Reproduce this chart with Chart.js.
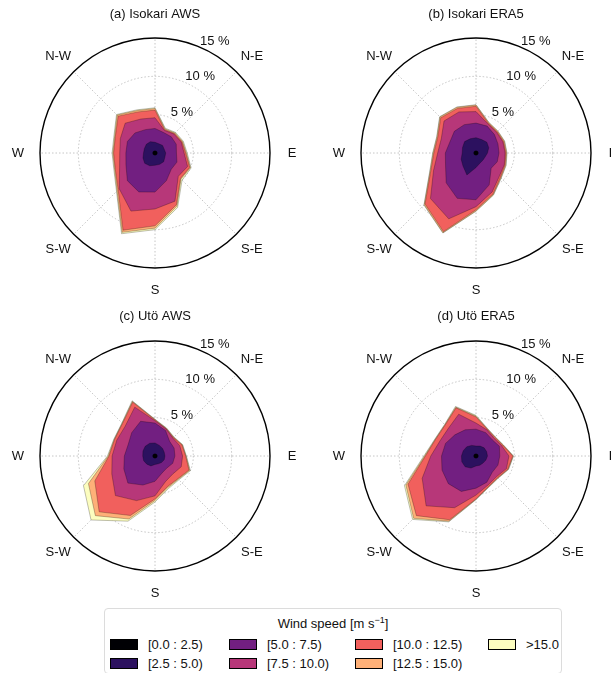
<!DOCTYPE html>
<html>
<head>
<meta charset="utf-8">
<script src="https://cdn.jsdelivr.net/npm/chart.js@4.4.1/dist/chart.umd.min.js"></script>
<style>
html, body { margin: 0; padding: 0; background: #fff; width: 611px; height: 673px; overflow: hidden; }
body { position: relative; font-family: "Liberation Sans", Arial, sans-serif; color: #111; }
canvas { position: absolute; }
#legend { position: absolute; left: 104px; top: 608px; width: 458px; height: 66px; box-sizing: border-box;
  border: 1px solid #dcdcdc; border-radius: 4px; font-size: 13px; }
#legend .ttl { position: absolute; left: 0; right: 0; top: 6px; text-align: center; }
#legend .ttl sup { font-size: 9px; }
#legend .sw { position: absolute; width: 26px; height: 9px; border: 1px solid #000; }
#legend .lb { position: absolute; line-height: 15px; white-space: nowrap; }
</style>
</head>
<body>
<canvas id="roseA" width="305" height="300" style="left:0;top:0"></canvas>
<canvas id="roseB" width="320" height="300" style="left:305px;top:0"></canvas>
<canvas id="roseC" width="305" height="300" style="left:0;top:300px"></canvas>
<canvas id="roseD" width="320" height="300" style="left:305px;top:300px"></canvas>
<div id="legend"></div>
<script>
// 16 compass sectors, clockwise from north
const directions = ['N', 'NNE', 'NE', 'ENE', 'E', 'ESE', 'SE', 'SSE', 'S', 'SSW', 'SW', 'WSW', 'W', 'WNW', 'NW', 'NNW'];
const compassLabels = ['', '', 'N-E', '', 'E', '', 'S-E', '', 'S', '', 'S-W', '', 'W', '', 'N-W', ''];
const rTicks = [5, 10, 15];
const speedBins = ['[0.0 : 2.5)', '[2.5 : 5.0)', '[5.0 : 7.5)', '[7.5 : 10.0)', '[10.0 : 12.5)', '[12.5 : 15.0)', '>15.0'];
const binColors = ['#000004', '#2c115f', '#721f81', '#b73779', '#f1605d', '#feb078', '#fcfdbf'];

// cumulative frequency (%) per speed bin, one row per bin
const isokariAws = [
  [0.3, 0.3, 0.3, 0.3, 0.3, 0.3, 0.3, 0.3, 0.3, 0.3, 0.3, 0.3, 0.3, 0.3, 0.3, 0.3],
  [1.4, 1.3, 1.4, 1.3, 1.4, 1.4, 1.6, 1.6, 1.6, 1.8, 1.9, 1.7, 1.5, 1.5, 1.6, 1.6],
  [3.2, 2.9, 3.0, 3.0, 2.8, 3.1, 3.0, 3.9, 5.1, 5.5, 5.1, 4.1, 3.8, 3.9, 3.7, 3.3],
  [4.6, 3.2, 3.5, 3.7, 3.8, 4.6, 4.3, 6.8, 7.3, 8.2, 6.6, 5.0, 4.6, 4.9, 5.5, 4.8],
  [5.6, 3.3, 3.6, 3.8, 4.0, 4.9, 4.7, 7.3, 9.5, 10.9, 6.8, 5.6, 5.4, 5.6, 6.8, 5.8],
  [5.8, 3.4, 3.7, 3.9, 4.1, 5.0, 4.8, 7.5, 9.8, 11.2, 7.0, 5.7, 5.5, 5.7, 7.0, 6.0],
  [5.9, 3.5, 3.8, 4.0, 4.2, 5.1, 5.0, 7.7, 10.0, 11.4, 7.1, 5.8, 5.6, 5.8, 7.1, 6.1]
];
const isokariEra5 = [
  [0.3, 0.3, 0.3, 0.3, 0.3, 0.3, 0.3, 0.3, 0.3, 0.3, 0.3, 0.3, 0.3, 0.3, 0.3, 0.3],
  [2.0, 1.9, 2.0, 1.8, 1.5, 1.3, 1.3, 1.4, 1.9, 3.1, 2.4, 2.1, 1.8, 1.9, 2.1, 2.0],
  [3.9, 3.8, 3.4, 3.1, 3.0, 3.0, 2.8, 4.5, 6.1, 6.4, 5.5, 4.3, 4.0, 3.7, 4.0, 4.0],
  [5.4, 4.1, 3.8, 3.8, 3.8, 4.0, 4.3, 5.5, 7.0, 9.3, 8.4, 6.0, 5.0, 4.9, 5.9, 5.8],
  [6.1, 4.2, 3.9, 3.9, 3.9, 4.1, 4.5, 5.8, 7.4, 11.1, 9.4, 6.4, 5.5, 5.4, 6.5, 6.3],
  [6.25, 4.3, 4.0, 4.0, 4.0, 4.2, 4.6, 5.9, 7.55, 11.25, 9.55, 6.5, 5.6, 5.5, 6.65, 6.45],
  [6.3, 4.35, 4.05, 4.05, 4.05, 4.25, 4.65, 5.95, 7.6, 11.3, 9.6, 6.55, 5.65, 5.55, 6.7, 6.5]
];
const utoAws = [
  [0.3, 0.3, 0.3, 0.3, 0.3, 0.3, 0.3, 0.3, 0.3, 0.3, 0.3, 0.3, 0.3, 0.3, 0.3, 0.3],
  [1.7, 1.5, 1.4, 1.3, 1.3, 1.3, 1.2, 1.1, 1.1, 1.4, 1.5, 1.6, 1.6, 1.7, 1.8, 1.8],
  [4.3, 3.6, 2.7, 2.7, 2.6, 2.5, 2.2, 2.4, 3.3, 4.1, 5.0, 4.4, 4.0, 3.8, 4.3, 4.9],
  [4.6, 3.8, 3.3, 3.5, 3.6, 3.7, 3.3, 3.6, 5.2, 6.3, 7.3, 6.1, 5.6, 5.4, 5.5, 6.9],
  [4.7, 3.85, 3.4, 3.8, 4.0, 4.8, 4.2, 4.3, 5.6, 8.4, 10.3, 8.5, 6.0, 5.7, 6.0, 7.6],
  [4.75, 3.9, 3.45, 3.85, 4.05, 4.9, 4.3, 4.45, 5.8, 8.9, 11.0, 9.4, 6.1, 5.75, 6.05, 7.7],
  [4.8, 3.95, 3.5, 3.9, 4.1, 5.0, 4.4, 4.6, 6.0, 9.2, 11.8, 10.1, 6.2, 5.8, 6.1, 7.8]
];
const utoEra5 = [
  [0.3, 0.3, 0.3, 0.3, 0.3, 0.3, 0.3, 0.3, 0.3, 0.3, 0.3, 0.3, 0.3, 0.3, 0.3, 0.3],
  [1.3, 1.4, 1.5, 1.5, 1.5, 1.4, 1.3, 1.3, 1.3, 1.7, 2.0, 2.0, 1.9, 1.8, 1.7, 1.5],
  [3.5, 3.3, 3.0, 3.3, 3.1, 3.1, 3.0, 3.7, 4.2, 5.0, 5.1, 4.8, 4.5, 4.3, 3.9, 3.7],
  [4.3, 3.7, 3.3, 3.6, 4.3, 4.3, 3.8, 4.1, 5.1, 7.3, 9.2, 7.6, 5.9, 5.1, 5.1, 5.9],
  [5.1, 3.8, 3.45, 3.75, 4.8, 4.5, 4.0, 4.3, 5.6, 9.0, 11.0, 9.6, 6.6, 5.7, 5.7, 6.8],
  [5.2, 3.85, 3.5, 3.8, 4.85, 4.55, 4.05, 4.35, 5.65, 9.2, 11.5, 9.9, 6.7, 5.75, 5.75, 6.9],
  [5.3, 3.9, 3.55, 3.85, 4.9, 4.6, 4.1, 4.4, 5.7, 9.3, 11.7, 10.1, 6.8, 5.8, 5.8, 7.0]
];

const FONT = '"Liberation Sans", Arial, sans-serif';

// compass labels and % ticks, placed with the radial scale
const roseLabels = {
  id: 'roseLabels',
  afterDraw(chart) {
    const scale = chart.scales.r;
    const ctx = chart.ctx;
    ctx.save();
    ctx.font = '13px ' + FONT;
    ctx.fillStyle = '#111';
    ctx.textAlign = 'center';
    ctx.textBaseline = 'middle';
    compassLabels.forEach((txt, i) => {
      if (!txt) return;
      const p = scale.getPointPosition(i, scale.drawingArea + 22);
      ctx.fillText(txt, p.x, p.y);
    });
    ctx.textAlign = 'left';
    ctx.textBaseline = 'bottom';
    rTicks.forEach(v => {
      const p = scale.getPointPositionForValue(1, v);
      ctx.fillText(v + ' %', p.x + 1, p.y + 1);
    });
    ctx.restore();
  }
};

function makeRose(id, title, layers, pad, titlePad) {
  new Chart(document.getElementById(id), {
    type: 'radar',
    data: {
      labels: directions,
      datasets: layers.map((vals, i) => ({
        label: speedBins[i],
        data: vals,
        backgroundColor: binColors[i],
        borderColor: 'rgba(0,0,0,0.5)',
        borderWidth: 0.5,
        pointRadius: 0,
        fill: 'origin'
      }))
    },
    options: {
      responsive: false,
      animation: false,
      devicePixelRatio: 1,
      layout: { padding: pad },
      plugins: {
        legend: { display: false },
        tooltip: { enabled: false },
        title: {
          display: true,
          text: title,
          color: '#111',
          font: { family: FONT, size: 13, weight: 'normal' },
          padding: titlePad
        }
      },
      scales: {
        r: {
          z: 1,
          min: 0,
          max: 15,
          ticks: { display: false, stepSize: 5 },
          pointLabels: { display: false },
          grid: {
            circular: true,
            color: c => c.tick.value === 15 ? '#000' : 'rgba(176,176,176,0.8)',
            lineWidth: c => c.tick.value === 15 ? 1.4 : 0.9
          },
          border: { dash: c => (c.tick && c.tick.value === 15) ? [] : [1.5, 2] },
          angleLines: {
            color: 'rgba(176,176,176,0.8)',
            lineWidth: c => c.index % 2 === 0 ? 0.9 : 0,
            borderDash: [1.5, 2]
          }
        }
      }
    },
    plugins: [roseLabels]
  });
}

makeRose('roseA', '(a) Isokari AWS', isokariAws, { left: 40, right: 35, top: 0, bottom: 32 }, { top: 7, bottom: 15.4 });
makeRose('roseB', '(b) Isokari ERA5', isokariEra5, { left: 56, right: 34, top: 0, bottom: 32 }, { top: 7, bottom: 15.4 });
makeRose('roseC', '(c) Utö AWS', utoAws, { left: 40, right: 35, top: 0, bottom: 29 }, { top: 9, bottom: 16.4 });
makeRose('roseD', '(d) Utö ERA5', utoEra5, { left: 56, right: 34, top: 0, bottom: 29 }, { top: 9, bottom: 16.4 });

// legend: 2 rows, filled column by column
const legend = document.getElementById('legend');
legend.innerHTML = '<div class="ttl">Wind speed [m s<sup>\u22121</sup>]</div>';
const colX = [5, 124, 250, 383];
speedBins.forEach((name, i) => {
  const col = Math.floor(i / 2), row = i % 2;
  const y = 29 + row * 19;
  const sw = document.createElement('div');
  sw.className = 'sw';
  sw.style.left = colX[col] + 'px';
  sw.style.top = (y + 1) + 'px';
  sw.style.background = binColors[i];
  legend.appendChild(sw);
  const lb = document.createElement('div');
  lb.className = 'lb';
  lb.style.left = (colX[col] + 38) + 'px';
  lb.style.top = (y - 1) + 'px';
  lb.textContent = name;
  legend.appendChild(lb);
});
</script>
</body>
</html>
